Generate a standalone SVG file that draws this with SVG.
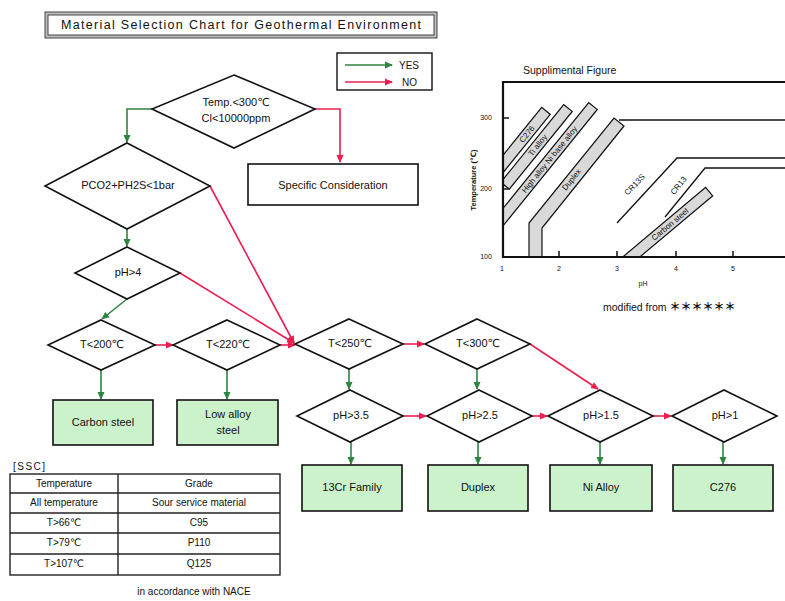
<svg xmlns="http://www.w3.org/2000/svg" width="785" height="601" viewBox="0 0 785 601">
<defs>
<style>
text{font-family:"Liberation Sans",Arial,"DejaVu Sans",sans-serif;fill:#111}
.dia{fill:#fff;stroke:#111;stroke-width:1.6}
.res{fill:#ccf2cc;stroke:#111;stroke-width:1.6}
.box{fill:#fff;stroke:#111;stroke-width:1.6}
.t11{font-size:11px;text-anchor:middle;dominant-baseline:middle}
.yes{fill:none;stroke:#2e8540;stroke-width:1.6;marker-end:url(#ag)}
.no{fill:none;stroke:#ea1f50;stroke-width:1.6;marker-end:url(#ar)}
.band{fill:#d9d9d9;stroke:#111;stroke-width:1.2}
.bl{font-size:8px;text-anchor:middle;dominant-baseline:middle}
.ax{stroke:#111;stroke-width:2.2;fill:none}
.ln{stroke:#111;stroke-width:1.3;fill:none}
.tk{font-size:7px;text-anchor:middle}
.tbl{fill:none;stroke:#222;stroke-width:1.4}
.tt{font-size:10px;text-anchor:middle;dominant-baseline:middle}
</style>
<marker id="ag" markerUnits="userSpaceOnUse" markerWidth="8" markerHeight="8" viewBox="0 0 8 8" refX="7" refY="4" orient="auto"><path d="M0,0.5 L8,4 L0,7.5 z" fill="#2e8540"/></marker>
<marker id="ar" markerUnits="userSpaceOnUse" markerWidth="8" markerHeight="8" viewBox="0 0 8 8" refX="7" refY="4" orient="auto"><path d="M0,0.5 L8,4 L0,7.5 z" fill="#ea1f50"/></marker>
<clipPath id="plot"><rect x="503" y="82" width="282" height="175"/></clipPath>
</defs>
<rect width="785" height="601" fill="#fff"/>

<g id="title">
<rect x="45" y="12" width="392" height="26" fill="#bdbdbd" stroke="#444" stroke-width="1"/>
<rect x="48" y="15" width="386" height="20" fill="#fff" stroke="#444" stroke-width="1"/>
<text x="241" y="26" font-size="12.5" text-anchor="middle" dominant-baseline="middle" textLength="360" lengthAdjust="spacing">Material Selection Chart for Geothermal Environment</text>
</g>

<g id="legend">
<rect x="337" y="53" width="95" height="37" fill="#fff" stroke="#111" stroke-width="1.4"/>
<line x1="345" y1="65" x2="392" y2="65" class="yes"/>
<line x1="345" y1="82" x2="392" y2="82" class="no"/>
<text x="399" y="66" font-size="10" dominant-baseline="middle">YES</text>
<text x="402" y="83" font-size="10" dominant-baseline="middle">NO</text>
</g>

<g id="connectors">
<polyline class="yes" points="152,109 127,109 127,142"/>
<polyline class="no" points="315,109 340,109 340,162"/>
<line class="yes" x1="127" y1="229" x2="127" y2="246"/>
<line class="no" x1="210" y1="186" x2="294" y2="343"/>
<line class="no" x1="180" y1="273" x2="294" y2="343"/>
<line class="yes" x1="127" y1="299" x2="102" y2="319"/>
<line class="no" x1="155" y1="345" x2="173" y2="345"/>
<line class="no" x1="280" y1="345" x2="295" y2="345"/>
<line class="no" x1="403" y1="344" x2="424" y2="344"/>
<line class="no" x1="530" y1="344" x2="598" y2="389"/>
<line class="yes" x1="101" y1="370" x2="101" y2="399"/>
<line class="yes" x1="227" y1="370" x2="227" y2="399"/>
<line class="yes" x1="349" y1="369" x2="349" y2="389"/>
<line class="yes" x1="477" y1="369" x2="477" y2="389"/>
<line class="no" x1="403" y1="416" x2="426" y2="416"/>
<line class="no" x1="532" y1="416" x2="547" y2="416"/>
<line class="no" x1="653" y1="416" x2="671" y2="416"/>
<line class="yes" x1="351" y1="442" x2="351" y2="464"/>
<line class="yes" x1="478" y1="442" x2="478" y2="464"/>
<line class="yes" x1="600" y1="442" x2="600" y2="464"/>
<line class="yes" x1="723" y1="442" x2="723" y2="464"/>
</g>

<g id="n-temp"><polygon class="dia" points="234,75 315,109 234,148 152,109"/>
<text class="t11" x="236" y="103">Temp.&lt;300℃</text><text class="t11" x="236" y="119">Cl&lt;10000ppm</text></g>
<g id="n-spec"><rect class="box" x="248" y="164" width="170" height="41"/><text class="t11" x="333" y="186">Specific Consideration</text></g>
<g id="n-pco2"><polygon class="dia" points="127,143 210,186 127,229 45,186"/><text class="t11" x="128" y="186">PCO2+PH2S&lt;1bar</text></g>
<g id="n-ph4"><polygon class="dia" points="127,247 180,273 127,299 75,273"/><text class="t11" x="128" y="273">pH&gt;4</text></g>
<g id="n-t200"><polygon class="dia" points="101,320 155,345 101,370 48,345"/><text class="t11" x="102" y="345">T&lt;200℃</text></g>
<g id="n-t220"><polygon class="dia" points="227,320 280,345 227,370 173,345"/><text class="t11" x="228" y="345">T&lt;220℃</text></g>
<g id="n-t250"><polygon class="dia" points="349,319 403,344 349,369 295,344"/><text class="t11" x="350" y="344">T&lt;250℃</text></g>
<g id="n-t300"><polygon class="dia" points="477,319 530,344 477,369 425,344"/><text class="t11" x="478" y="344">T&lt;300℃</text></g>
<g id="n-ph35"><polygon class="dia" points="350,390 403,416 350,442 297,416"/><text class="t11" x="351" y="416">pH&gt;3.5</text></g>
<g id="n-ph25"><polygon class="dia" points="479,390 532,416 479,442 427,416"/><text class="t11" x="480" y="416">pH&gt;2.5</text></g>
<g id="n-ph15"><polygon class="dia" points="600,390 653,416 600,442 548,416"/><text class="t11" x="601" y="416">pH&gt;1.5</text></g>
<g id="n-ph1"><polygon class="dia" points="724,390 777,416 724,442 672,416"/><text class="t11" x="725" y="416">pH&gt;1</text></g>

<g id="r-carbon"><rect class="res" x="53" y="400" width="100" height="45"/><text class="t11" x="103" y="423">Carbon steel</text></g>
<g id="r-lowalloy"><rect class="res" x="177" y="400" width="101" height="45"/><text class="t11" x="228" y="415">Low alloy</text><text class="t11" x="228" y="431">steel</text></g>
<g id="r-13cr"><rect class="res" x="302" y="465" width="100" height="46"/><text class="t11" x="352" y="488">13Cr Family</text></g>
<g id="r-duplex"><rect class="res" x="428" y="465" width="100" height="46"/><text class="t11" x="478" y="488">Duplex</text></g>
<g id="r-nialloy"><rect class="res" x="550" y="465" width="102" height="46"/><text class="t11" x="601" y="488">Ni Alloy</text></g>
<g id="r-c276"><rect class="res" x="673" y="465" width="100" height="46"/><text class="t11" x="723" y="488">C276</text></g>

<g id="supplement">
<text x="523" y="74" font-size="10.5">Supplimental Figure</text>
<g clip-path="url(#plot)">
<g transform="translate(520.8,142) rotate(-51)"><rect class="band" x="-40" y="-5.5" width="80" height="11"/><text class="bl" x="10" y="0.5">C276</text></g>
<g transform="translate(536.5,146.9) rotate(-51)"><rect class="band" x="-50" y="-5.5" width="100" height="11"/><text class="bl" x="2" y="0.5">Ti alloy</text></g>
<g transform="translate(545.8,164.3) rotate(-51)"><rect class="band" x="-75" y="-5.5" width="150" height="11"/><text class="bl" x="6" y="0.5">High alloy  Ni base alloy</text></g>
<polygon class="band" points="529,258 529,223 614,118 624,126 542,228 542,258"/>
<text class="bl" transform="translate(572,180) rotate(-51)">Duplex</text>
<g transform="translate(667,227) rotate(-40)"><rect class="band" x="-55" y="-5.5" width="110" height="11"/><text class="bl" x="4" y="0.5">Carbon steel</text></g>
<polyline class="ln" points="619,120 785,120"/>
<polyline class="ln" points="617,223 677,158 785,158"/>
<polyline class="ln" points="665,217 705,168 785,168"/>
<text class="bl" font-size="9" transform="translate(635,185) rotate(-47)">CR13S</text>
<text class="bl" font-size="9" transform="translate(679,186) rotate(-51)">CR13</text>
</g>
<polyline class="ax" points="785,82 503,82 503,257 785,257"/>
<g stroke="#111" stroke-width="1.5">
<line x1="503" y1="118" x2="509" y2="118"/><line x1="503" y1="189" x2="509" y2="189"/>
<line x1="559" y1="257" x2="559" y2="251"/><line x1="617" y1="257" x2="617" y2="251"/>
<line x1="676" y1="257" x2="676" y2="251"/><line x1="733" y1="257" x2="733" y2="251"/>
</g>
<text class="tk" x="486" y="120">300</text>
<text class="tk" x="486" y="191">200</text>
<text class="tk" x="486" y="259">100</text>
<text class="tk" x="502" y="271">1</text><text class="tk" x="559" y="271">2</text>
<text class="tk" x="617" y="271">3</text><text class="tk" x="676" y="271">4</text>
<text class="tk" x="733" y="271">5</text>
<text class="tk" x="643" y="286">pH</text>
<text font-size="7.5" font-weight="bold" text-anchor="middle" transform="translate(476,180) rotate(-90)">Temperature (℃)</text>
<text x="603" y="311" font-size="10.5">modified from <tspan font-family="'Noto Sans CJK JP',sans-serif" font-size="11" font-weight="bold">＊＊＊＊＊＊</tspan></text>
</g>

<g id="ssc">
<text x="13" y="470" font-size="10" letter-spacing="1.5">[SSC]</text>
<rect class="tbl" x="10" y="474" width="270" height="101"/>
<line class="tbl" x1="10" y1="493" x2="280" y2="493"/>
<line class="tbl" x1="10" y1="513" x2="280" y2="513"/>
<line class="tbl" x1="10" y1="533" x2="280" y2="533"/>
<line class="tbl" x1="10" y1="554" x2="280" y2="554"/>
<line class="tbl" x1="118" y1="474" x2="118" y2="575"/>
<text class="tt" x="64" y="484">Temperature</text><text class="tt" x="199" y="484">Grade</text>
<text class="tt" x="64" y="503">All temperature</text><text class="tt" x="199" y="503">Sour service material</text>
<text class="tt" x="64" y="523">T&gt;66℃</text><text class="tt" x="199" y="523">C95</text>
<text class="tt" x="64" y="543">T&gt;79℃</text><text class="tt" x="199" y="543">P110</text>
<text class="tt" x="64" y="564">T&gt;107℃</text><text class="tt" x="199" y="564">Q125</text>
<text class="tt" x="194" y="592">in accordance with NACE</text>
</g>
</svg>
